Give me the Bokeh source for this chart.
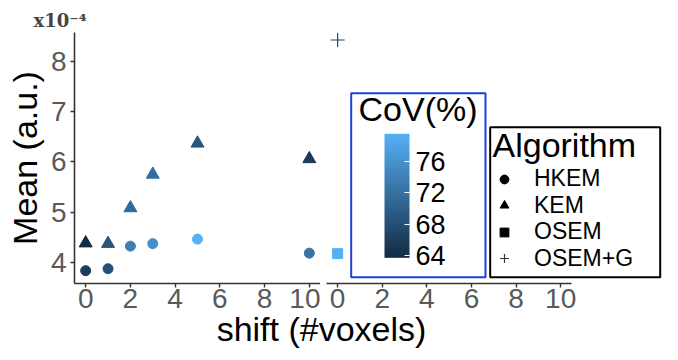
from bokeh.plotting import figure
from bokeh.layouts import row, column
from bokeh.models import (Range1d, FixedTicker, LinearColorMapper, ColorBar,
                          Legend, LegendItem, Label, BoxAnnotation, ColumnDataSource, Title)
from bokeh.embed import file_html
from bokeh.resources import INLINE

# ---------------- data (Mean in units of 1e-4) ----------------
shift_hkem = [0, 1, 2, 3, 5, 10]
mean_hkem = [3.83, 3.87, 4.32, 4.37, 4.46, 4.18]
cov_hkem = [65.6, 68.1, 73.7, 75.5, 79.5, 72.4]

shift_kem = [0, 1, 2, 3, 5, 10]
mean_kem = [4.38, 4.37, 5.08, 5.75, 6.37, 6.06]
cov_kem = [63.7, 68.6, 71.1, 71.5, 68.7, 65.5]

shift_osem = [0]
mean_osem = [4.17]
cov_osem = [79.2]

shift_osemg = [0]
mean_osemg = [8.43]
cov_osemg = [67.0]

algorithms = ["HKEM", "KEM", "OSEM", "OSEM+G"]
cov_ticks = [64, 68, 72, 76]
x_ticks = [0, 2, 4, 6, 8, 10]
y_ticks = [4, 5, 6, 7, 8]

FONT = "Liberation Sans"

# ---------------- colour mapping ----------------
def hex2rgb(h):
    return tuple(int(h[i:i + 2], 16) for i in (1, 3, 5))

lo_c, hi_c = hex2rgb("#132B43"), hex2rgb("#56B1F7")
palette = ["#%02x%02x%02x" % tuple(round(lo_c[k] + (hi_c[k] - lo_c[k]) * t / 255) for k in range(3))
           for t in range(256)]
all_cov = cov_hkem + cov_kem + cov_osem + cov_osemg
mapper = LinearColorMapper(palette=palette, low=min(all_cov), high=max(all_cov))
cmap = {"field": "cov", "transform": mapper}

src_hkem = ColumnDataSource(dict(shift=shift_hkem, mean=mean_hkem, cov=cov_hkem))
src_kem = ColumnDataSource(dict(shift=shift_kem, mean=mean_kem, cov=cov_kem))
src_osem = ColumnDataSource(dict(shift=shift_osem, mean=mean_osem, cov=cov_osem))
src_osemg = ColumnDataSource(dict(shift=shift_osemg, mean=mean_osemg, cov=cov_osemg))

# ---------------- layout geometry ----------------
PX = 22.3                 # pixels per shift unit
X_LO, X_HI = -0.5, 10.5   # panel x extent
Y_LO, Y_HI = 3.575, 8.58
TOP, FRAME_H = 32, 251
LEFT_W = 246
RIGHT_W = 337             # right frame also holds the legends
y_range = Range1d(Y_LO, Y_HI)


def style_axis(ax):
    ax.axis_line_color = "#333333"
    ax.axis_line_width = 1.6
    ax.major_tick_line_color = "#333333"
    ax.major_tick_line_width = 1.4
    ax.major_tick_out = 4
    ax.major_tick_in = 0
    ax.minor_tick_line_color = None
    ax.major_label_text_font = FONT
    ax.major_label_text_font_size = "28px"
    ax.major_label_text_color = "#5a5a5a"
    ax.major_label_standoff = 1
    ax.axis_label_text_font = FONT
    ax.axis_label_text_font_size = "34px"
    ax.axis_label_text_font_style = "normal"
    ax.axis_label_text_color = "black"


def style_fig(p):
    p.outline_line_color = None
    p.xgrid.visible = False
    p.ygrid.visible = False
    p.background_fill_color = "white"
    p.border_fill_color = "white"


# ---------------- left panel ----------------
left = figure(frame_width=LEFT_W, frame_height=FRAME_H, x_range=Range1d(X_LO, X_HI), y_range=y_range,
              min_border_left=74, min_border_right=0, min_border_top=TOP, min_border_bottom=30,
              output_backend="svg", toolbar_location=None)
style_fig(left)
left.xaxis.ticker = FixedTicker(ticks=x_ticks)
left.yaxis.ticker = FixedTicker(ticks=y_ticks)
left.yaxis.axis_label = "Mean (a.u.)"
style_axis(left.xaxis[0])
style_axis(left.yaxis[0])
left.yaxis.major_label_standoff = 4
left.yaxis.axis_label_standoff = 4

left.scatter("shift", "mean", source=src_hkem, marker="circle", size=10,
             fill_color=cmap, line_color=cmap)
left.scatter("shift", "mean", source=src_kem, marker="triangle", size=13,
             fill_color=cmap, line_color=cmap)

left.add_layout(Title(text="x10\u207b\u2074", align="left", offset=-41, standoff=3,
                      text_font="DejaVu Serif", text_font_style="bold", text_font_size="18px",
                      text_color="#444444"), "above")

# ---------------- right panel (frame extended to hold the legends) ----------------
right = figure(frame_width=RIGHT_W, frame_height=FRAME_H,
               x_range=Range1d(X_LO, X_LO + RIGHT_W / PX), y_range=y_range,
               min_border_left=6, min_border_right=0, min_border_top=TOP, min_border_bottom=30,
               y_axis_location=None, output_backend="svg", toolbar_location=None)
style_fig(right)
right.xaxis.ticker = FixedTicker(ticks=x_ticks)
right.xaxis.bounds = (X_LO, X_HI)
style_axis(right.xaxis[0])

right.scatter("shift", "mean", source=src_osem, marker="square", size=10,
              fill_color=cmap, line_color=cmap)
right.scatter("shift", "mean", source=src_osemg, marker="cross", size=14,
              line_color=cmap, line_width=1.2)

# colour legend box
right.add_layout(BoxAnnotation(left=24.7, right=159, bottom=6.3, top=190.3,
                               left_units="screen", right_units="screen",
                               bottom_units="screen", top_units="screen",
                               fill_color="white", fill_alpha=1.0,
                               line_color="#1f3fd6", line_alpha=1.0, line_width=2))
right.add_layout(Label(x=32, y=175, x_units="screen", y_units="screen", text="CoV(%)",
                       text_font=FONT, text_font_size="34px", text_color="black",
                       text_baseline="alphabetic"))
cbar = ColorBar(color_mapper=mapper, location=(58, 25.7), width=25, height=124,
                padding=0, margin=0, ticker=FixedTicker(ticks=cov_ticks),
                major_label_text_font=FONT, major_label_text_font_size="27px",
                major_label_text_color="black", label_standoff=6,
                major_tick_line_color="white", major_tick_in=5, major_tick_out=0,
                minor_tick_line_color=None, bar_line_color=None,
                border_line_color=None, background_fill_alpha=0)
right.add_layout(cbar)

# shape legend: box + title + one legend entry per row (black keys from hidden renderers)
right.add_layout(BoxAnnotation(left=163.7, right=333.7, bottom=6.3, top=156.3,
                               left_units="screen", right_units="screen",
                               bottom_units="screen", top_units="screen",
                               fill_color="white", fill_alpha=1.0,
                               line_color="black", line_alpha=1.0, line_width=2))
right.add_layout(Label(x=166, y=139, x_units="screen", y_units="screen", text="Algorithm",
                       text_font=FONT, text_font_size="34px", text_color="black",
                       text_baseline="alphabetic"))
markers = ["circle", "triangle", "square", "cross"]
srcs = [src_hkem, src_kem, src_osem, src_osemg]
row_centers = [104, 77.5, 51, 24.5]   # screen px above frame bottom
ITEM_H = 26
for name, mk, s, yc in zip(algorithms, markers, srcs, row_centers):
    if mk == "cross":
        r = right.scatter("shift", "mean", source=s, marker=mk, line_color="#333333", line_width=1.2)
    else:
        r = right.scatter("shift", "mean", source=s, marker=mk, fill_color="black", line_color="black")
    r.visible = False
    lg = Legend(items=[LegendItem(label=name, renderers=[r])], location=(167, yc - ITEM_H / 2),
                label_text_font=FONT, label_text_font_size="23px", label_text_color="black",
                padding=0, margin=0, spacing=0, glyph_width=22,
                glyph_height=(26 if mk == "cross" else 22),
                label_standoff=19, label_height=20, inactive_fill_alpha=0.0,
                border_line_color=None, background_fill_alpha=0.0)
    right.add_layout(lg)

# ---------------- shared x-axis title ----------------
TOTAL_W = 74 + LEFT_W + 6 + RIGHT_W
lab = figure(width=TOTAL_W, height=46, x_range=Range1d(0, 1), y_range=Range1d(0, 1), min_border=0,
             x_axis_location=None, y_axis_location=None, output_backend="svg", toolbar_location=None)
style_fig(lab)
lab.border_fill_alpha = 0
lab.background_fill_alpha = 0
lab.margin = (-8, 0, 0, 0)
lab.add_layout(Label(x=321, y=23, x_units="screen", y_units="screen", text="shift (#voxels)",
                     text_font=FONT, text_font_size="34px", text_color="black",
                     text_align="center", text_baseline="middle"))

layout = column(row(left, right), lab)
open("out.html", "w").write(file_html(layout, INLINE))
